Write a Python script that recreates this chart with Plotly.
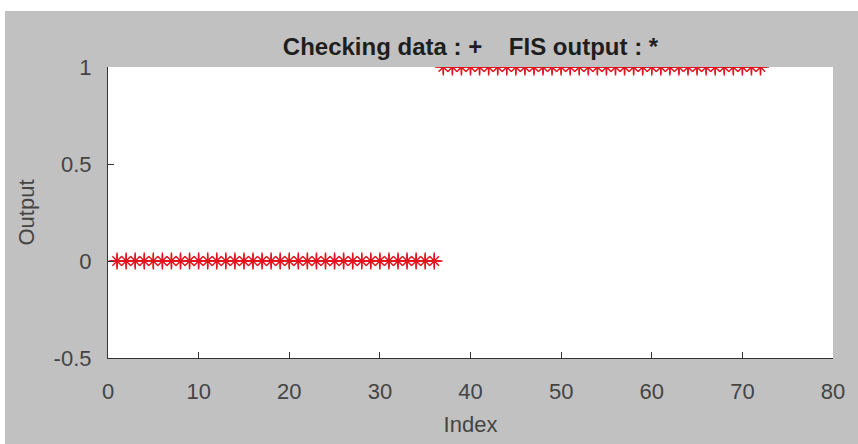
import plotly.graph_objects as go

# Data
index = [1, 2, 3, 4, 5, 6, 7, 8, 9, 10, 11, 12, 13, 14, 15, 16, 17, 18,
         19, 20, 21, 22, 23, 24, 25, 26, 27, 28, 29, 30, 31, 32, 33, 34, 35, 36,
         37, 38, 39, 40, 41, 42, 43, 44, 45, 46, 47, 48, 49, 50, 51, 52, 53, 54,
         55, 56, 57, 58, 59, 60, 61, 62, 63, 64, 65, 66, 67, 68, 69, 70, 71, 72]
checking_data = [0, 0, 0, 0, 0, 0, 0, 0, 0, 0, 0, 0, 0, 0, 0, 0, 0, 0,
                 0, 0, 0, 0, 0, 0, 0, 0, 0, 0, 0, 0, 0, 0, 0, 0, 0, 0,
                 1, 1, 1, 1, 1, 1, 1, 1, 1, 1, 1, 1, 1, 1, 1, 1, 1, 1,
                 1, 1, 1, 1, 1, 1, 1, 1, 1, 1, 1, 1, 1, 1, 1, 1, 1, 1]
fis_output = [0, 0, 0, 0, 0, 0, 0, 0, 0, 0, 0, 0, 0, 0, 0, 0, 0, 0,
              0, 0, 0, 0, 0, 0, 0, 0, 0, 0, 0, 0, 0, 0, 0, 0, 0, 0,
              1, 1, 1, 1, 1, 1, 1, 1, 1, 1, 1, 1, 1, 1, 1, 1, 1, 1,
              1, 1, 1, 1, 1, 1, 1, 1, 1, 1, 1, 1, 1, 1, 1, 1, 1, 1]
x_ticks = [0, 10, 20, 30, 40, 50, 60, 70, 80]
y_ticks = [-0.5, 0, 0.5, 1]
y_tick_labels = ["-0.5", "0", "0.5", "1"]

W, H = 858, 444
ML, MR, MT, MB = 108, 25, 67, 86
pw, ph = W - ML - MR, H - MT - MB

RED = "#e3141e"
fig = go.Figure()
fig.add_trace(go.Scatter(
    x=index, y=checking_data, mode="markers", name="Checking data",
    marker=dict(symbol="cross-thin-open", size=12, color=RED,
                line=dict(color=RED, width=1.5)),
))
fig.add_trace(go.Scatter(
    x=index, y=fis_output, mode="markers", name="FIS output",
    marker=dict(symbol="asterisk-open", size=11, color=RED,
                line=dict(color=RED, width=1.5)),
))

# figure gray background with thin white border (top/left)
fig.add_shape(type="rect", xref="paper", yref="paper",
              x0=(5 - ML) / pw, x1=(W - ML) / pw + 0.01,
              y0=-(MB + 2) / ph, y1=(ph + MT - 11) / ph,
              fillcolor="#c1c1c1", line=dict(width=0), layer="below")
fig.add_shape(type="rect", xref="paper", yref="paper",
              x0=0, x1=1, y0=0, y1=1,
              fillcolor="white", line=dict(width=0), layer="below")

font_fam = "Liberation Sans, Arial, sans-serif"
TXT = "#444444"
fig.update_layout(
    width=W, height=H,
    margin=dict(l=ML, r=MR, t=MT, b=MB, autoexpand=False),
    paper_bgcolor="white", plot_bgcolor="rgba(0,0,0,0)",
    showlegend=False,
    font=dict(family=font_fam, color=TXT),
    title=dict(text="Checking data : +" + "\u00a0" * 4 + "FIS output : *",
               x=(ML + pw / 2) / W, xanchor="center",
               y=1 - 47 / H, yanchor="middle",
               font=dict(size=24, color="#1e1e1e", family=font_fam, weight="bold")),
    xaxis=dict(range=[0, 80], tickvals=x_ticks, ticks="inside", ticklen=6,
               tickcolor="#333", showline=True, linecolor="#333", linewidth=1.2,
               mirror=False, showgrid=False, zeroline=False,
               tickfont=dict(size=22, color=TXT), ticklabelstandoff=13,
               title=dict(text="Index", font=dict(size=22, color=TXT), standoff=14)),
    yaxis=dict(range=[-0.5, 1], tickvals=y_ticks, ticktext=y_tick_labels,
               ticks="inside", ticklen=6,
               tickcolor="#333", showline=True, linecolor="#333", linewidth=1.2,
               mirror=False, showgrid=False, zeroline=False,
               tickfont=dict(size=22, color=TXT), ticklabelstandoff=11,
               title=dict(text="Output", font=dict(size=22, color=TXT), standoff=12)),
)
fig.write_html("out.html", config={"displayModeBar": False},
               post_script="document.body.style.margin='0';")
